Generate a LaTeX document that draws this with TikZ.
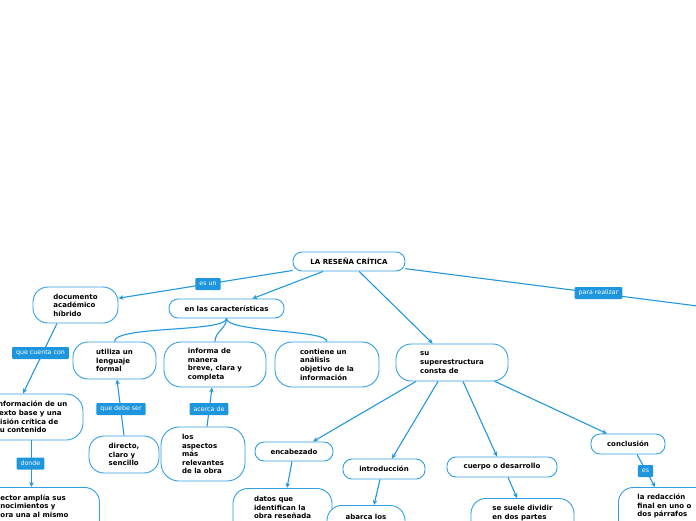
\documentclass[tikz,border=0pt]{standalone}
\usepackage{fontspec}
\setmainfont{DejaVu Sans}
\usetikzlibrary{arrows.meta,calc}
\definecolor{lblue}{RGB}{36,152,222}
\definecolor{fblue}{RGB}{30,150,222}
\definecolor{bblue}{RGB}{50,160,228}
\begin{document}
\begin{tikzpicture}[x=1pt,y=-1pt,
  box/.style={draw=bblue, line width=0.9pt, fill=white, rounded corners=#1, align=left,
    font=\fontsize{7}{8.6}\selectfont\bfseries, inner sep=0pt},
  box/.default=15pt,
  conn/.style={draw=lblue, line width=1.1pt, -{Stealth[length=5pt,width=4.5pt]}},
  plain/.style={draw=lblue, line width=1.1pt},
  lab/.style={fill=fblue, text=white, font=\fontsize{6.3}{7}\selectfont, inner xsep=4pt,
    inner ysep=0pt, minimum height=12pt, rounded corners=1pt}]
\useasboundingbox (0,0) rectangle (696,520);
\fill[white] (0,0) rectangle (696,520);

\node[box=9pt, minimum width=112pt, minimum height=19pt] (root) at (349,261.5) {LA RESEÑA CRÍTICA};
\node[box, minimum width=85pt, minimum height=36pt] (doc) at (75.5,305) {documento\\académico\\híbrido};
\node[box=9pt, minimum width=115pt, minimum height=19pt] (car) at (226.5,308.5) {en las características};
\node[box, minimum width=83pt, minimum height=37pt] (uti) at (114.5,360.5) {utiliza un\\lenguaje\\formal};
\node[box=17pt, minimum width=102pt, minimum height=45pt] (inf) at (215,364.5) {informa de\\manera\\breve, clara y\\completa};
\node[box=17pt, minimum width=104pt, minimum height=45pt] (con) at (327,364.5) {contiene un\\análisis\\objetivo de la\\información};
\node[box, minimum width=112pt, minimum height=37pt] (sup) at (452,362.5) {su\\superestructura\\consta de};
\node[box=17pt, minimum width=103pt, minimum height=46pt] (infb) at (31.5,417) {información de un\\texto base y una\\visión crítica de\\su contenido};
\node[box, minimum width=70pt, minimum height=37pt] (dir) at (124,454.5) {directo,\\claro y\\sencillo};
\node[box=18pt, minimum width=84pt, minimum height=54pt] (asp) at (203,454) {los\\aspectos\\más\\relevantes\\de la obra};
\node[box, anchor=north west, inner xsep=31pt, inner ysep=7pt] (lec) at (-31,487) {ector amplía sus\\nocimientos y\\ora una al mismo\\\mbox{}\\\mbox{}};
\node[box=9pt, minimum width=78pt, minimum height=19pt] (enc) at (294,451.5) {encabezado};
\node[box=9pt, minimum width=82pt, minimum height=20pt] (intro) at (384,469) {introducción};
\node[box=9pt, minimum width=110pt, minimum height=20pt] (cue) at (502,467) {cuerpo o desarrollo};
\node[box=9pt, minimum width=74pt, minimum height=20pt] (conc) at (628,444) {conclusión};
\node[box, anchor=north, minimum width=99pt, inner ysep=8pt] (dat) at (282.5,488) {datos que\\identifican la\\obra reseñada\\\mbox{}\\\mbox{}};
\node[box, anchor=north, minimum width=78pt, inner ysep=9pt] (aba) at (366,505) {abarca los\\\mbox{}\\\mbox{}};
\node[box, anchor=north, minimum width=103pt, inner ysep=7pt] (ses) at (522.5,498) {se suele dividir\\en dos partes\\\mbox{}\\\mbox{}};
\node[box, anchor=north west, inner xsep=19pt, inner ysep=6.5pt] (red) at (618,487) {la redacción\\final en uno o\\dos párrafos\\\mbox{}\\\mbox{}};

\coordinate (pr) at (760,314);
\draw[conn] (root) -- (doc);
\draw[conn] (root) -- (car);
\draw[conn] (root) -- (sup);
\draw[plain] (root) -- (pr);
\draw[conn] ($(doc.south)+(-18.5,0)$) -- ($(infb.north)+(-8.5,0)$);
\draw[plain] (car.south) .. controls +(0,14) and +(0,-16) .. (uti.north);
\draw[plain] (car.south) .. controls +(0,10) and +(0,-10) .. (inf.north);
\draw[plain] (car.south) .. controls +(0,14) and +(0,-12) .. (con.north);
\draw[conn] (dir.north) -- ($(uti.south)+(2.5,0)$);
\draw[conn] ($(asp.north)+(4,0)$) -- ($(inf.south)+(-3,0)$);
\draw[conn] (infb.south) -- (infb.south |- lec.north);
\draw[conn] ($(sup.south)+(-36,0)$) -- ($(enc.north)+(19,0)$);
\draw[conn] ($(sup.south)+(-14,0)$) -- ($(intro.north)+(8,0)$);
\draw[conn] ($(sup.south)+(11,0)$) -- ($(cue.north)+(-5,0)$);
\draw[conn] ($(sup.south)+(43,0)$) -- ($(conc.north)+(-21,0)$);
\draw[conn] ($(enc.south)+(-2,0)$) -- ($(dat.north)+(4.5,0)$);
\draw[conn] ($(intro.south)+(-4,0)$) -- ($(aba.north)+(8,0)$);
\draw[conn] ($(cue.south)+(6,0)$) -- ($(ses.north)+(-5.5,0)$);
\draw[conn] ($(conc.south)+(9,0)$) -- ($(red.north west)+(37,0)$);

\node[lab] (l1) at (208,284) {es un};
\node[lab] (l2) at (40.5,353) {que cuenta con};
\node[lab] (l3) at (121,409) {que debe ser};
\node[lab] (l4) at (209,409) {acerca de};
\node[lab] (l5) at (30.5,463.5) {donde};
\node[lab] (l6) at (598.5,293) {para realizar};
\node[lab] (l7) at (645.5,471) {es};
\end{tikzpicture}
\end{document}
